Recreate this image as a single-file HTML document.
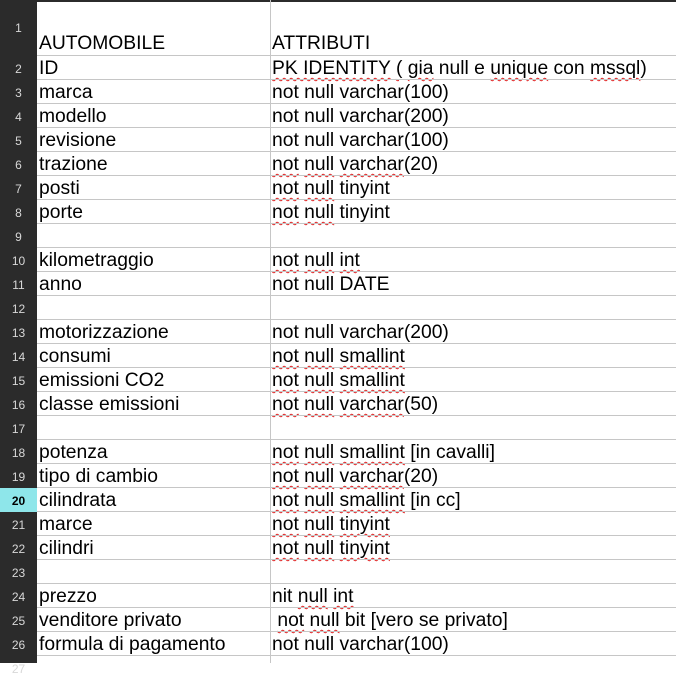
<!DOCTYPE html>
<html><head><meta charset="utf-8"><style>
body{margin:0;width:676px;height:663px;overflow:hidden;background:#fff;font-family:"Liberation Sans",sans-serif;position:relative}
.hdr{position:absolute;left:0;top:0;width:37px;height:663px;background:#2b2b2b}
.top{position:absolute;left:0;top:0;width:676px;height:2px;background:#2b2b2b}
.n{position:absolute;left:0;width:37px;height:24px;color:#d8d8d8;font-size:12px;text-align:center;line-height:26px}
.a,.b{position:absolute;height:24px;font-size:19.3px;line-height:24px;padding-top:1px;color:#000;white-space:nowrap}
.a{left:39px}.b{left:272px}
.h{position:absolute;left:37px;width:639px;height:1px;background:#c6c6c6}
.v{position:absolute;left:270px;top:0;width:1px;height:663px;background:#c6c6c6}
.w{text-decoration:underline wavy #e02020;text-decoration-thickness:1px;text-underline-offset:3px}
.hl{background:#8ee6ea;color:#000;font-weight:bold}
</style></head><body>
<div class="hdr"></div><div class="top"></div><div class="v"></div>
<div class="n" style="top:0;height:56px;line-height:56px">1</div>
<div class="a" style="top:31px">AUTOMOBILE</div><div class="b" style="top:31px">ATTRIBUTI</div>
<div class="h" style="top:55px"></div>
<div id="rows"></div>
<script>
var d=[
["ID",'<span class="w">PK IDENTITY</span> <span class="w">(</span> <span class="w">gia</span> null e <span class="w">unique</span> con <span class="w">mssql</span>)'],
["marca","not null varchar(100)"],
["modello","not null varchar(200)"],
["revisione","not null varchar(100)"],
["trazione",'<span class="w">not</span> <span class="w">null</span> <span class="w">varchar</span>(20)'],
["posti",'<span class="w">not</span> <span class="w">null</span> tinyint'],
["porte",'<span class="w">not</span> <span class="w">null</span> tinyint'],
["",""],
["kilometraggio",'<span class="w">not</span> <span class="w">null</span> <span class="w">int</span>'],
["anno","not null DATE"],
["",""],
["motorizzazione","not null varchar(200)"],
["consumi",'<span class="w">not</span> <span class="w">null</span> <span class="w">smallint</span>'],
["emissioni CO2",'<span class="w">not</span> <span class="w">null</span> <span class="w">smallint</span>'],
["classe emissioni",'<span class="w">not</span> <span class="w">null</span> <span class="w">varchar</span>(50)'],
["",""],
["potenza",'<span class="w">not</span> <span class="w">null</span> <span class="w">smallint</span> [in cavalli]'],
["tipo di cambio",'<span class="w">not</span> <span class="w">null</span> <span class="w">varchar</span>(20)'],
["cilindrata",'<span class="w">not</span> <span class="w">null</span> <span class="w">smallint</span> [in cc]'],
["marce",'<span class="w">not</span> <span class="w">null</span> <span class="w">tinyint</span>'],
["cilindri",'<span class="w">not</span> <span class="w">null</span> <span class="w">tinyint</span>'],
["",""],
["prezzo",'nit <span class="w">null</span> <span class="w">int</span>'],
["venditore privato",'&nbsp;<span class="w">not</span> <span class="w">null</span> bit [vero se privato]'],
["formula di pagamento","not null varchar(100)"]
];
var h="";
for(var i=0;i<d.length;i++){var t=56+i*24;var num=i+2;
h+='<div class="n'+(num==20?' hl':'')+'" style="top:'+t+'px">'+num+'</div>';
h+='<div class="a" style="top:'+t+'px">'+d[i][0]+'</div><div class="b" style="top:'+t+'px">'+d[i][1]+'</div>';
h+='<div class="h" style="top:'+(t+23)+'px"></div>';}
h+='<div class="n" style="top:656px">27</div>';
document.getElementById("rows").innerHTML=h;
</script>
</body></html>
